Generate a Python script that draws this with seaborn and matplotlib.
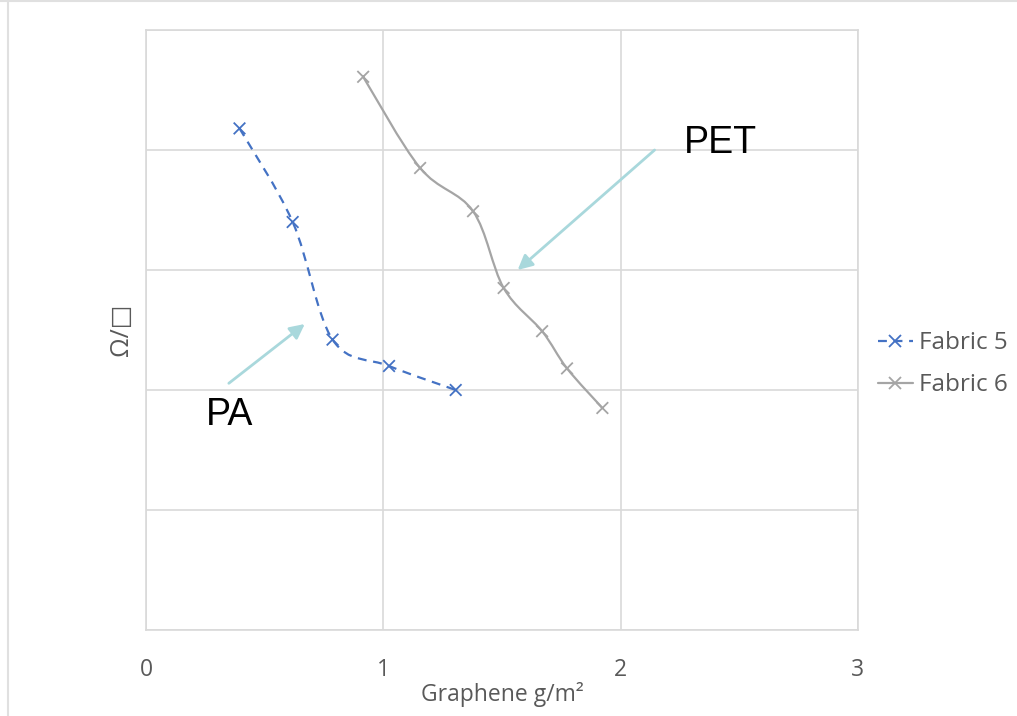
import matplotlib
matplotlib.use("Agg")
import matplotlib.pyplot as plt
import seaborn as sns
import numpy as np
import pandas as pd
from matplotlib.path import Path
from matplotlib.patches import PathPatch
from matplotlib.lines import Line2D

# ---- data ----
fabric5_x = [0.394, 0.618, 0.786, 1.024, 1.305]
fabric5_y = [4.18, 3.40, 2.42, 2.20, 2.00]
fabric6_x = [0.915, 1.155, 1.378, 1.507, 1.669, 1.774, 1.923]
fabric6_y = [4.61, 3.85, 3.49, 2.85, 2.49, 2.18, 1.85]
series_names = ["Fabric 5", "Fabric 6"]
x_ticks = [0, 1, 2, 3]
y_grid = [0, 1, 2, 3, 4, 5]
x_label = "Graphene g/m²"
y_label = "Ω/□"
annotations = [("PET", (2.42, 4.06), (2.143, 4.0), (1.566, 3.0)),
               ("PA", (0.354, 1.79), (0.349, 2.056), (0.669, 2.55))]

BLUE = "#4472C4"
GRAY = "#A5A5A5"
GRID = "#D9D9D9"
TEXT = "#595959"
ARROW = "#A9D8DC"

sns.set_theme(style="white")
plt.rcParams["font.family"] = ["Open Sans", "DejaVu Sans"]

fig = plt.figure(figsize=(10.17, 7.16), dpi=100)
ax = fig.add_axes([146 / 1017, 86 / 716, 712 / 1017, 600 / 716])

df = pd.concat([
    pd.DataFrame({"x": fabric5_x, "y": fabric5_y, "s": series_names[0]}),
    pd.DataFrame({"x": fabric6_x, "y": fabric6_y, "s": series_names[1]}),
])


def smooth_path(xs, ys):
    pts = np.column_stack([xs, ys]).astype(float)
    n = len(pts)
    verts = [pts[0]]
    codes = [Path.MOVETO]
    for i in range(n - 1):
        p0 = pts[i - 1] if i > 0 else pts[i]
        p1 = pts[i]
        p2 = pts[i + 1]
        p3 = pts[i + 2] if i + 2 < n else pts[i + 1]
        c1 = p1 + (p2 - p0) / 6.0
        c2 = p2 - (p3 - p1) / 6.0
        verts += [c1, c2, p2]
        codes += [Path.CURVE4] * 3
    return Path(verts, codes)


ax.add_patch(PathPatch(smooth_path(fabric5_x, fabric5_y), fill=False,
                       edgecolor=BLUE, lw=1.6, linestyle=(0, (4, 3)),
                       capstyle="butt", zorder=3))
ax.add_patch(PathPatch(smooth_path(fabric6_x, fabric6_y), fill=False,
                       edgecolor=GRAY, lw=1.6, zorder=3))

sns.scatterplot(data=df, x="x", y="y", hue="s", palette=[BLUE, GRAY],
                marker="x", s=70, linewidth=1.3, legend=False, ax=ax, zorder=4)

ax.set_xlim(0, 3)
ax.set_ylim(0, 5)
ax.set_xticks(x_ticks)
ax.set_xticklabels([str(t) for t in x_ticks])
ax.set_yticks(y_grid)
ax.set_yticklabels([])
ax.grid(True, color=GRID, lw=1.2)
ax.set_axisbelow(True)
for sp in ax.spines.values():
    sp.set_color(GRID)
    sp.set_linewidth(1.2)
ax.tick_params(axis="x", length=0, pad=20, labelsize=16.5, labelcolor=TEXT)
ax.tick_params(axis="y", length=0)
ax.set_xlabel(x_label, fontsize=16.5, color=TEXT, labelpad=0)
ax.set_ylabel(y_label, fontsize=18, color=TEXT, labelpad=5)

for label, tpos, tail, head in annotations:
    ax.annotate("", xy=head, xytext=tail,
                arrowprops=dict(arrowstyle="-|>", color=ARROW, lw=2,
                                mutation_scale=22, shrinkA=0, shrinkB=0))
    ax.text(tpos[0], tpos[1], label, fontsize=27, color="black",
            family="Liberation Sans", ha="center", va="center")

handles = [
    Line2D([], [], color=BLUE, lw=1.6, linestyle=(0, (4, 3)), marker="x",
           markersize=8, markeredgewidth=1.3),
    Line2D([], [], color=GRAY, lw=1.6, marker="x",
           markersize=8, markeredgewidth=1.3),
]
leg = ax.legend(handles, series_names, loc="center left",
                bbox_to_anchor=(0.997, 0.443), frameon=False, fontsize=17.5,
                handlelength=1.45, handletextpad=0.25, labelspacing=0.75,
                borderpad=0.4)
for t in leg.get_texts():
    t.set_color(TEXT)

fig.add_artist(Line2D([8 / 1017, 8 / 1017], [0, 1], color="#E0E0E0", lw=1.5))
fig.add_artist(Line2D([0, 1], [0.999, 0.999], color="#E0E0E0", lw=1.5))

fig.savefig("out.png", dpi=100, facecolor="white")
